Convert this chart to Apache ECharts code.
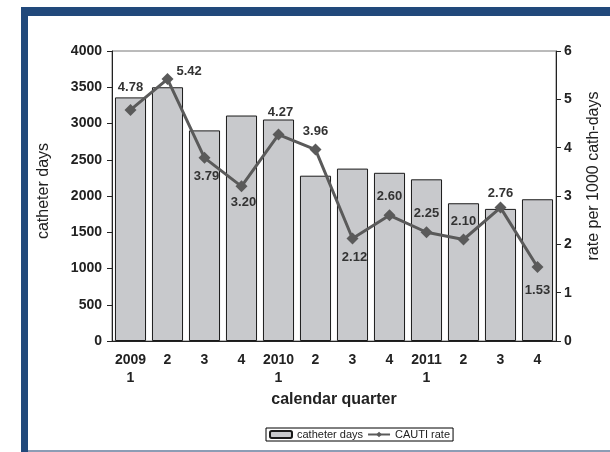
<!DOCTYPE html>
<html>
<head>
<meta charset="utf-8">
<script src="https://cdn.jsdelivr.net/npm/echarts@6/dist/echarts.min.js"></script>
<style>html,body{margin:0;padding:0;background:#fff}#c{width:610px;height:452px}</style>
</head>
<body>
<div id="c"></div>
<script>
// ---- data ----
const quarters = ['2009\n1', '2', '3', '4', '2010\n1', '2', '3', '4', '2011\n1', '2', '3', '4'];
const catheterDays = [3360, 3500, 2905, 3110, 3055, 2280, 2378, 2320, 2230, 1900, 1822, 1955];
const cautiRate = [4.78, 5.42, 3.79, 3.20, 4.27, 3.96, 2.12, 2.60, 2.25, 2.10, 2.76, 1.53];
const leftTicks = [0, 4000, 500];
const rightTicks = [0, 6, 1];

// label placement (style only)
const labelPlace = [
  ['top', [0, -5]], ['right', [-2, -8]], ['bottom', [2, 1]], ['bottom', [2, -1]],
  ['top', [2, -5]], ['top', [0, -1]], ['bottom', [2, 1]], ['top', [0, -1]],
  ['top', [0, -1]], ['top', [0, -1]], ['top', [0, 3]], ['bottom', [0, 6]]
];

const FF = 'Liberation Sans, Arial, sans-serif';
const chart = echarts.init(document.getElementById('c'), null, {renderer: 'canvas'});
const tickFont = {fontFamily: FF, fontWeight: 'bold', fontSize: 14, color: '#222'};

chart.setOption({
  backgroundColor: '#fff',
  animation: false,
  graphic: [
    {type: 'rect', shape: {x: 21, y: 7, width: 7, height: 445}, style: {fill: '#21497b'}},
    {type: 'rect', shape: {x: 21, y: 7, width: 589, height: 9}, style: {fill: '#21497b'}},
    {type: 'rect', shape: {x: 28, y: 450, width: 582, height: 2}, style: {fill: '#8c9db5'}}
  ],
  grid: {left: 112, right: 43, top: 51, bottom: 111, show: true, borderColor: '#777', borderWidth: 1, backgroundColor: 'transparent'},
  legend: {
    bottom: 11, left: 266,
    data: ['catheter days', 'CAUTI rate'],
    borderColor: '#000', borderWidth: 1, padding: [1, 3], itemGap: 4, itemWidth: 22, itemHeight: 7,
    textStyle: {fontFamily: FF, fontSize: 11, color: '#222'}
  },
  xAxis: {
    type: 'category', data: quarters,
    name: 'calendar quarter', nameLocation: 'middle', nameGap: 47,
    nameTextStyle: {fontFamily: FF, fontWeight: 'bold', fontSize: 16, color: '#222'},
    axisLine: {lineStyle: {color: '#222', width: 1}},
    axisTick: {length: 5, lineStyle: {color: '#222'}},
    axisLabel: Object.assign({margin: 10, lineHeight: 18, interval: 0}, tickFont)
  },
  yAxis: [
    {
      type: 'value', min: leftTicks[0], max: leftTicks[1], interval: leftTicks[2],
      name: 'catheter days', nameLocation: 'middle', nameGap: 60,
      nameTextStyle: {fontFamily: FF, fontSize: 16, color: '#222', padding: [0, 0, 0, 10]},
      axisLine: {show: true, lineStyle: {color: '#222'}},
      axisTick: {show: true, length: 5, lineStyle: {color: '#222'}},
      splitLine: {show: false},
      axisLabel: Object.assign({margin: 10, formatter: v => String(v)}, tickFont)
    },
    {
      type: 'value', min: rightTicks[0], max: rightTicks[1], interval: rightTicks[2],
      name: 'rate per 1000 cath-days', nameLocation: 'middle', nameGap: 30,
      nameTextStyle: {fontFamily: FF, fontSize: 16, color: '#222', padding: [0, 0, 0, 40]},
      axisLine: {show: true, lineStyle: {color: '#222'}},
      axisTick: {show: true, length: 5, lineStyle: {color: '#222'}},
      splitLine: {show: false},
      axisLabel: Object.assign({margin: 8}, tickFont)
    }
  ],
  series: [
    {
      name: 'catheter days', type: 'bar', yAxisIndex: 0, data: catheterDays,
      barCategoryGap: '16%',
      itemStyle: {color: '#c8c9cc', borderColor: '#1a1a1a', borderWidth: 1}
    },
    {
      name: 'CAUTI rate', type: 'line', yAxisIndex: 1,
      data: cautiRate.map((v, i) => ({
        value: v,
        label: {position: labelPlace[i][0], offset: labelPlace[i][1]}
      })),
      symbol: 'diamond', symbolSize: 12,
      lineStyle: {color: '#5a5a5a', width: 3},
      itemStyle: {color: '#5a5a5a'},
      label: {show: true, formatter: p => p.value.toFixed(2), fontFamily: FF, fontWeight: 'bold', fontSize: 13, color: '#333'}
    }
  ]
});
</script>
</body>
</html>
